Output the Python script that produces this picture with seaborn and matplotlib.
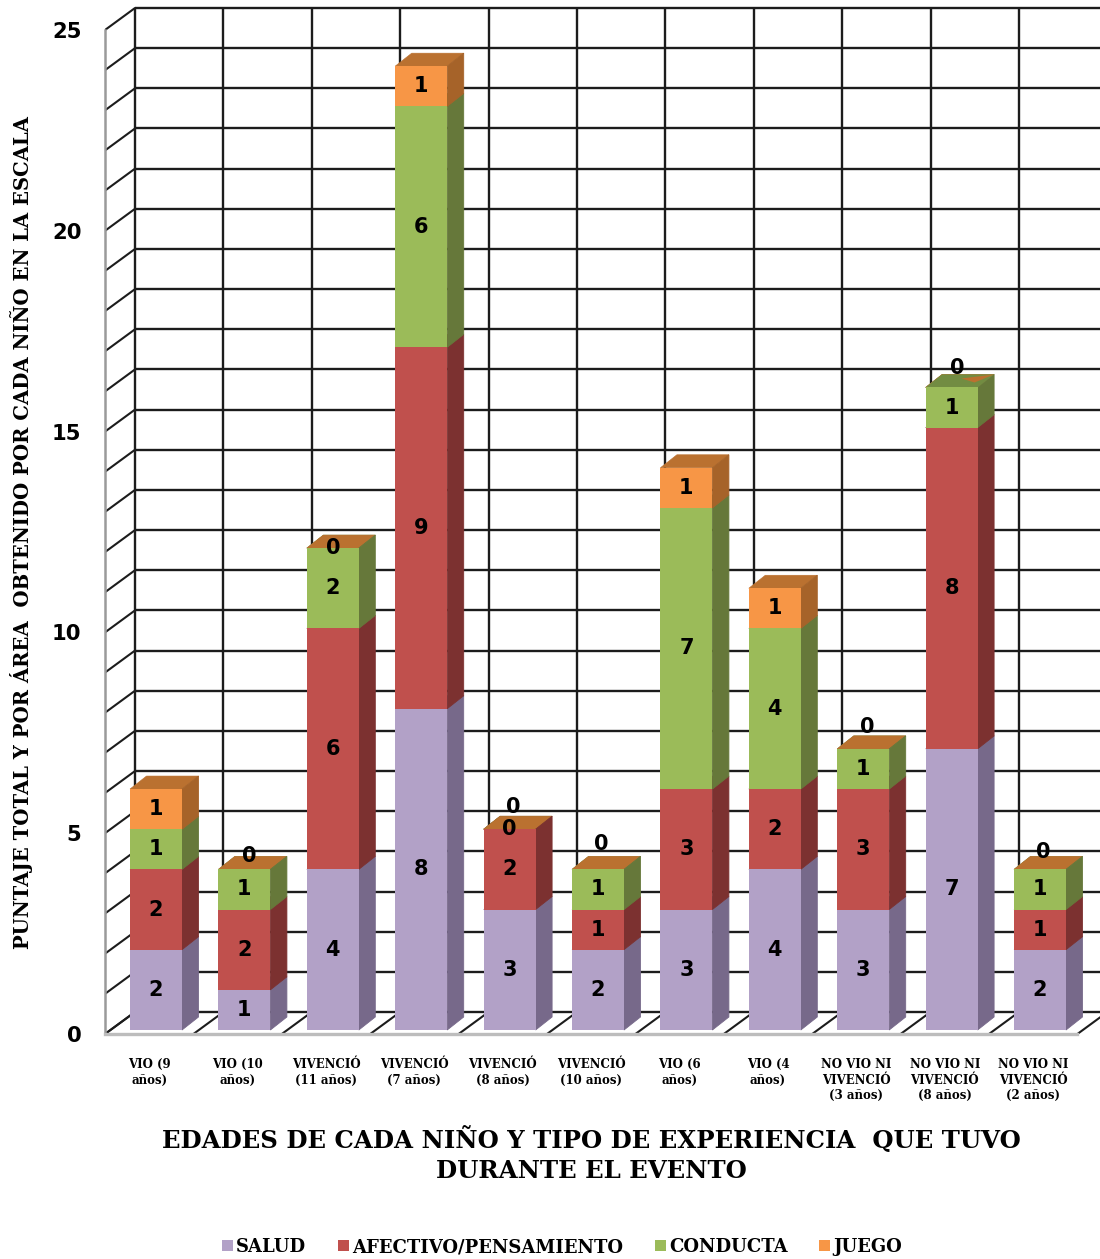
import matplotlib
matplotlib.use("Agg")
import matplotlib.pyplot as plt
from matplotlib.patches import Patch
from matplotlib.transforms import Affine2D
import numpy as np
import seaborn as sns

# Scores per child, stacked by area
categories = ["VIO (9\naños)", "VIO (10\naños)", "VIVENCIÓ\n(11 años)", "VIVENCIÓ\n(7 años)",
              "VIVENCIÓ\n(8 años)", "VIVENCIÓ\n(10 años)", "VIO (6\naños)", "VIO (4\naños)",
              "NO VIO NI\nVIVENCIÓ\n(3 años)", "NO VIO NI\nVIVENCIÓ\n(8 años)",
              "NO VIO NI\nVIVENCIÓ\n(2 años)"]
salud = [2, 1, 4, 8, 3, 2, 3, 4, 3, 7, 2]
afectivo = [2, 2, 6, 9, 2, 1, 3, 2, 3, 8, 1]
conducta = [1, 1, 2, 6, 0, 1, 7, 4, 1, 1, 1]
juego = [1, 0, 0, 1, 0, 0, 1, 1, 0, 0, 0]

series_names = ["SALUD", "AFECTIVO/PENSAMIENTO", "CONDUCTA", "JUEGO"]
series_values = [salud, afectivo, conducta, juego]
front_colors = ["#B2A1C7", "#C0504D", "#9BBB59", "#F79646"]
side_colors = ["#77698A", "#7C3130", "#66783A", "#A66329"]
top_colors = ["#8C7DA0", "#9A3F3C", "#728C42", "#BA7130"]

# Nudges (pixels) for labels of zero-height segments: (bar, series) -> (right, up)
zero_label_nudges = {(1, 3): (5, 13), (2, 3): (0, 0), (4, 2): (0, 0), (4, 3): (4, 22),
                     (5, 3): (3, 25), (8, 3): (4, 22), (9, 3): (6, 19), (10, 3): (3, 17)}

CAT_PX = 88.4
UNIT_PX = 40.16
WALL_DX, WALL_DY = 30 / CAT_PX, 22 / UNIT_PX      # depth of the chart box
BAR_DX, BAR_DY = 16.5 / CAT_PX, 13 / UNIT_PX      # depth of each column
INSET_X, INSET_Y = 6.8 / CAT_PX, 4 / UNIT_PX      # column set back from the front plane
SERIF = "DejaVu Serif"
GRID = "#1c1c1c"

sns.set_theme(style="white")
plt.rcParams["font.family"] = ["DejaVu Sans"]

fig = plt.figure(figsize=(11, 12.59), dpi=100)
ax = fig.add_axes([105 / 1100, (1259 - 1034) / 1259, 995 / 1100, 1034 / 1259])
ax.set_facecolor("white")

# Stacked front faces
n = len(categories)
bottoms = np.zeros(n)
shift = Affine2D().translate(INSET_X, INSET_Y) + ax.transData
rects = []
for values, color in zip(series_values, front_colors):
    sns.barplot(x=categories, y=values, bottom=bottoms, color=color, saturation=1,
                width=52 / CAT_PX, linewidth=0, errorbar=None, ax=ax, zorder=4.2)
    rects.append(list(ax.patches[-n:]))
    bottoms = bottoms + np.array(values)

x_left, x_right = -0.5, n - 0.5
ax.set_xlim(x_left, x_left + 995 / CAT_PX)
ax.set_ylim(0, 1034 / UNIT_PX)

# Back wall, side wall and floor of the box
levels = np.arange(0, 26)
ax.hlines(levels + WALL_DY, x_left + WALL_DX, x_right + WALL_DX, color=GRID, lw=1.7, zorder=1)
ax.vlines(np.arange(n + 1) + x_left + WALL_DX, WALL_DY, 25 + WALL_DY, color=GRID, lw=1.7, zorder=1)
for k in levels:
    ax.plot([x_left, x_left + WALL_DX], [k, k + WALL_DY], color=GRID, lw=1.5, zorder=1)
for i in range(n + 1):
    ax.plot([x_left + i, x_left + i + WALL_DX], [0, WALL_DY], color=GRID, lw=1.5, zorder=1)

# Side and top faces of every stacked segment
for s, group in enumerate(rects):
    for i, r in enumerate(group):
        r.set_transform(shift)
        x0, x1 = r.get_x(), r.get_x() + r.get_width()
        y0, y1 = r.get_y(), r.get_y() + r.get_height()
        if r.get_height() > 0:
            ax.fill([x1, x1 + BAR_DX, x1 + BAR_DX, x1],
                    [y0, y0 + BAR_DY, y1 + BAR_DY, y1],
                    color=side_colors[s], lw=0.6, transform=shift, zorder=4)
        ax.fill([x0, x1, x1 + BAR_DX, x0 + BAR_DX],
                [y1, y1, y1 + BAR_DY, y1 + BAR_DY],
                color=top_colors[s], lw=0.4, transform=shift, zorder=3.9 + s * 0.01)

# On one column the green top shows through the zero-height orange one
r = rects[2][9]
x0, w, y1 = r.get_x(), r.get_width(), r.get_y() + r.get_height()
ax.fill([x0, x0 + w, x0 + w + BAR_DX, x0 + BAR_DX],
        [y1, y1, y1 + BAR_DY, y1 + BAR_DY],
        color=top_colors[2], lw=0, transform=shift, zorder=4.1)
corners = [(0.47, 0.69), (1.0, 1.0), (0.82, 0.38)]
ax.fill([x0 + a * w + b * BAR_DX for a, b in corners],
        [y1 + b * BAR_DY for a, b in corners],
        color=top_colors[3], lw=0, transform=shift, zorder=4.15)

# Value labels centred on each segment
for s, group in enumerate(rects):
    for i, r in enumerate(group):
        value = series_values[s][i]
        if value == 0 and (i, s) not in zero_label_nudges:
            continue
        nudge = zero_label_nudges.get((i, s), (0, 0))
        ax.annotate(str(value),
                    xy=(r.get_x() + r.get_width() / 2, r.get_y() + r.get_height() / 2),
                    xycoords=shift, xytext=nudge, textcoords="offset pixels",
                    ha="center", va="center", fontsize=15, fontweight="bold",
                    color="black", zorder=6)

# Axes
for side in ["top", "right"]:
    ax.spines[side].set_visible(False)
ax.spines["left"].set_bounds(0, 25)
ax.spines["left"].set_color("#9a9a9a")
ax.spines["left"].set_linewidth(1.8)
ax.spines["bottom"].set_bounds(x_left, x_right)
ax.spines["bottom"].set_color("#bdbdbd")
ax.spines["bottom"].set_linewidth(2.4)
ax.set_yticks(np.arange(0, 26, 5))
ax.tick_params(axis="y", length=5, width=1.3, color="#8a8a8a", pad=12, labelsize=15.2)
for t in ax.get_yticklabels():
    t.set_fontweight("bold")
    t.set_color("black")
ax.tick_params(axis="x", length=0, pad=17.5)
ax.set_xticks(range(n))
ax.set_xticklabels(categories, family=SERIF, fontweight="bold", fontsize=8.5,
                   color="black", linespacing=1.22)

fig.text(591 / 1100, 1 - 1154.5 / 1259,
         "EDADES DE CADA NIÑO Y TIPO DE EXPERIENCIA  QUE TUVO\nDURANTE EL EVENTO",
         family=SERIF, fontweight="bold", fontsize=17.6, ha="center", va="center",
         linespacing=1.27, color="black")
fig.text(22 / 1100, 1 - 533 / 1259,
         "PUNTAJE TOTAL Y POR ÁREA  OBTENIDO POR CADA NIÑO EN LA ESCALA",
         family=SERIF, fontweight="bold", fontsize=14.1, rotation=90, ha="center", va="center",
         color="black")

handles = [Patch(facecolor=c, edgecolor="none", label=name)
           for c, name in zip(front_colors, series_names)]
fig.legend(handles=handles, ncol=4, loc="center", bbox_to_anchor=(562 / 1100, 1 - 1247 / 1259),
           frameon=False, prop={"family": SERIF, "weight": "bold", "size": 13},
           handlelength=0.62, handleheight=0.62, handletextpad=0.16, columnspacing=1.75,
           borderpad=0, labelcolor="black")

fig.savefig("out.png", dpi=100, facecolor="white")
